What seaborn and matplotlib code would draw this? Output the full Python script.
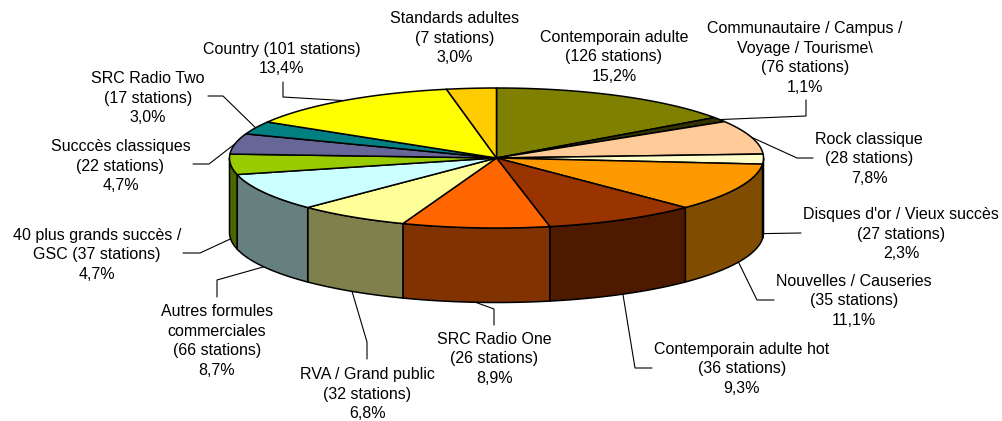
import numpy as np
import matplotlib
matplotlib.use("Agg")
import matplotlib.pyplot as plt
import seaborn as sns

categories = ["Contemporain adulte", "Communautaire / Campus / Voyage / Tourisme\\", "Rock classique",
              "Disques d'or / Vieux succès", "Nouvelles / Causeries", "Contemporain adulte hot",
              "SRC Radio One", "RVA / Grand public", "Autres formules commerciales",
              "40 plus grands succès / GSC", "Succcès classiques", "SRC Radio Two",
              "Country", "Standards adultes"]
stations = [126, 76, 28, 27, 35, 36, 26, 32, 66, 37, 22, 17, 101, 7]
shares = [15.2, 1.1, 7.8, 2.3, 11.1, 9.3, 8.9, 6.8, 8.7, 4.7, 4.7, 3.0, 13.4, 3.0]
top_colors = ["#808000", "#333300", "#FFCC99", "#FFFFCC", "#FF9900", "#993300", "#FF6600",
              "#FFFF99", "#CCFFFF", "#99CC00", "#666699", "#008080", "#FFFF00", "#FFCC00"]

label_texts = [
    "Contemporain adulte\n(126 stations)\n15,2%",
    "Communautaire / Campus /\nVoyage / Tourisme\\\n(76 stations)\n1,1%",
    "Rock classique\n(28 stations)\n7,8%",
    "Disques d'or / Vieux succès\n(27 stations)\n2,3%",
    "Nouvelles / Causeries\n(35 stations)\n11,1%",
    "Contemporain adulte hot\n(36 stations)\n9,3%",
    "SRC Radio One\n(26 stations)\n8,9%",
    "RVA / Grand public\n(32 stations)\n6,8%",
    "Autres formules\ncommerciales\n(66 stations)\n8,7%",
    "40 plus grands succès /\nGSC (37 stations)\n4,7%",
    "Succcès classiques\n(22 stations)\n4,7%",
    "SRC Radio Two\n(17 stations)\n3,0%",
    "Country (101 stations)\n13,4%",
    "Standards adultes\n(7 stations)\n3,0%",
]
label_centers = [(614, 57), (805, 58), (869, 159), (901, 234), (854, 301), (742, 369),
                 (494.5, 359), (367.5, 394), (217, 341), (97, 255), (120.5, 166), (148, 98),
                 (282, 59), (455, 38)]
elbows = [None, [(806, 116), (806, 100)], [(797, 158), (813, 158)], [(801, 233)],
          [(757, 300), (774, 300)], [(635, 368), (652, 368)], [(494, 309), (494, 325)],
          [(367, 342), (367, 359)], [(217, 280), (217, 297)], [(200, 253), (183, 253)],
          [(209, 164), (193, 164)], [(223, 96), (208, 96)], [(283, 97), (283, 82)], None]

sns.set_theme(style="white")
plt.rcParams["font.family"] = ["Liberation Sans", "DejaVu Sans"]

fig = plt.figure(figsize=(10.02, 4.21), dpi=100, facecolor="white")
ax = fig.add_axes([0, 0, 1, 1])
ax.set_xlim(0, 1002)
ax.set_ylim(421, 0)
ax.axis("off")

cx, cy, rx, ry, depth = 496.5, 158, 267, 70, 74.5
EDGE = dict(edgecolor="black", linewidth=1.1, joinstyle="round")


def rim(t):
    t = np.radians(t)
    return cx + rx * np.sin(t), cy - ry * np.cos(t)


def darker(c):
    return tuple(v * 0.5 for v in matplotlib.colors.to_rgb(c))


edges = np.concatenate([[0], np.cumsum(shares)]) / np.sum(shares) * 360

# outer wall (front half only)
for a, b, c in zip(edges[:-1], edges[1:], top_colors):
    lo, hi = max(a, 90), min(b, 270)
    if hi <= lo:
        continue
    t = np.linspace(lo, hi, 80)
    x, y = rim(t)
    ax.fill(np.r_[x, x[::-1]], np.r_[y, y[::-1] + depth], facecolor=darker(c), zorder=2, **EDGE)

# top face
for a, b, c in zip(edges[:-1], edges[1:], top_colors):
    t = np.linspace(a, b, 120)
    x, y = rim(t)
    ax.fill(np.r_[cx, x], np.r_[cy, y], facecolor=c, zorder=3, **EDGE)

# labels and leader lines
for a, b, txt, pos, elbow in zip(edges[:-1], edges[1:], label_texts, label_centers, elbows):
    ax.text(pos[0], pos[1], txt, ha="center", va="center", fontsize=11.5,
            color="black", linespacing=1.39, zorder=5)
    if elbow is None:
        continue
    mid = (a + b) / 2
    x0, y0 = rim(mid)
    if 90 < mid < 270:
        y0 += depth
    xs = [x0] + [p[0] for p in elbow]
    ys = [y0] + [p[1] for p in elbow]
    ax.plot(xs, ys, color="black", lw=0.8, zorder=1)

fig.savefig("out.png", dpi=100, facecolor="white")
